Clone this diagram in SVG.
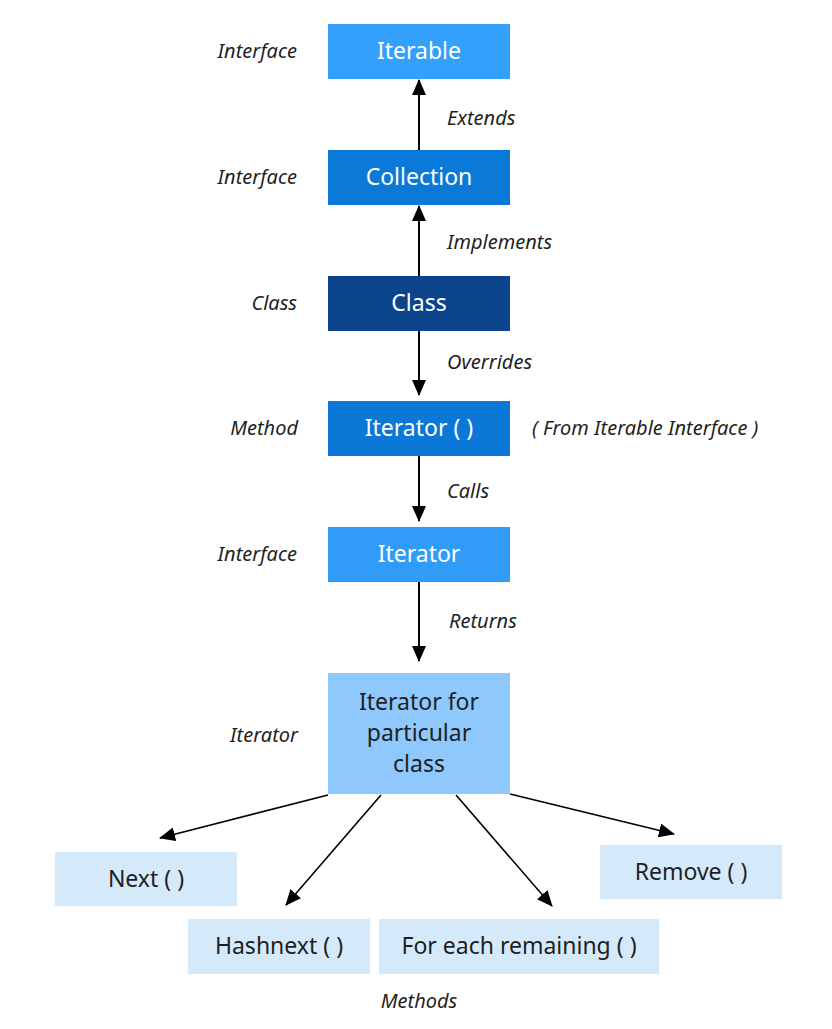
<svg xmlns="http://www.w3.org/2000/svg" width="832" height="1029" viewBox="0 0 832 1029">
<defs>
<style>
.n{font-family:"Noto Sans","Open Sans","Liberation Sans",sans-serif;font-size:23px;text-anchor:middle}
.w{fill:#ffffff}
.d{fill:#1f1f1f}
.l{font-family:"Noto Sans","Open Sans","Liberation Sans",sans-serif;font-size:20px;font-style:italic;fill:#1f1f1f}
.r{text-anchor:end}
.c{stroke:#000;stroke-width:2;fill:none}
</style>
<marker id="ahb" markerWidth="16" markerHeight="14" refX="15" refY="7" orient="auto" markerUnits="userSpaceOnUse" viewBox="0 0 16 14"><path d="M0,0 L16,7 L0,14 Z" fill="#000"/></marker>
</defs>
<rect width="832" height="1029" fill="#ffffff"/>
<g id="connectors">
<line class="c" x1="419" y1="150" x2="419" y2="80" marker-end="url(#ahb)"/>
<line class="c" x1="419" y1="276" x2="419" y2="206" marker-end="url(#ahb)"/>
<line class="c" x1="419" y1="331" x2="419" y2="395" marker-end="url(#ahb)"/>
<line class="c" x1="419" y1="456" x2="419" y2="521" marker-end="url(#ahb)"/>
<line class="c" x1="419" y1="582" x2="419" y2="661" marker-end="url(#ahb)"/>
<line class="c" x1="328" y1="795" x2="160" y2="838" marker-end="url(#ahb)" style="stroke-width:1.6"/>
<line class="c" x1="381" y1="795" x2="286" y2="905" marker-end="url(#ahb)" style="stroke-width:1.6"/>
<line class="c" x1="456" y1="795" x2="552" y2="906" marker-end="url(#ahb)" style="stroke-width:1.6"/>
<line class="c" x1="510" y1="794" x2="674" y2="834" marker-end="url(#ahb)" style="stroke-width:1.6"/>
</g>
<g id="edge-labels">
<text class="l" x="447" y="125">Extends</text>
<text class="l" x="447" y="249">Implements</text>
<text class="l" x="447" y="369">Overrides</text>
<text class="l" x="447" y="498">Calls</text>
<text class="l" x="449" y="628">Returns</text>
</g>
<g id="side-labels">
<text class="l r" x="297" y="58">Interface</text>
<text class="l r" x="297" y="184">Interface</text>
<text class="l r" x="297" y="310">Class</text>
<text class="l r" x="298" y="435">Method</text>
<text class="l r" x="297" y="561">Interface</text>
<text class="l r" x="298" y="742">Iterator</text>
<text class="l" x="532" y="435">( From Iterable Interface )</text>
<text class="l" x="419" y="1008" text-anchor="middle">Methods</text>
</g>
<g id="iterable"><rect x="328" y="24" width="182" height="55" fill="#33a0fc"/><text class="n w" x="419" y="59">Iterable</text></g>
<g id="collection"><rect x="328" y="150" width="182" height="55" fill="#0b79d8"/><text class="n w" x="419" y="185">Collection</text></g>
<g id="class"><rect x="328" y="276" width="182" height="55" fill="#0b448b"/><text class="n w" x="419" y="311">Class</text></g>
<g id="iterator-method"><rect x="328" y="401" width="182" height="55" fill="#0b78d8"/><text class="n w" x="419" y="436">Iterator ( )</text></g>
<g id="iterator"><rect x="328" y="527" width="182" height="55" fill="#309cf8"/><text class="n w" x="419" y="562">Iterator</text></g>
<g id="iterator-particular"><rect x="328" y="673" width="182" height="121" fill="#8ec8fd"/>
<text class="n d" x="419" y="710">Iterator for</text><text class="n d" x="419" y="741">particular</text><text class="n d" x="419" y="772">class</text></g>
<g id="next"><rect x="55" y="852" width="182" height="54" fill="#d4eafb"/><text class="n d" x="146" y="887">Next ( )</text></g>
<g id="hashnext"><rect x="188" y="919" width="182" height="55" fill="#d4eafb"/><text class="n d" x="279" y="954">Hashnext ( )</text></g>
<g id="foreach"><rect x="379" y="919" width="280" height="55" fill="#d4eafb"/><text class="n d" x="519" y="954">For each remaining ( )</text></g>
<g id="remove"><rect x="600" y="845" width="182" height="54" fill="#d4eafb"/><text class="n d" x="691" y="880">Remove ( )</text></g>
</svg>
